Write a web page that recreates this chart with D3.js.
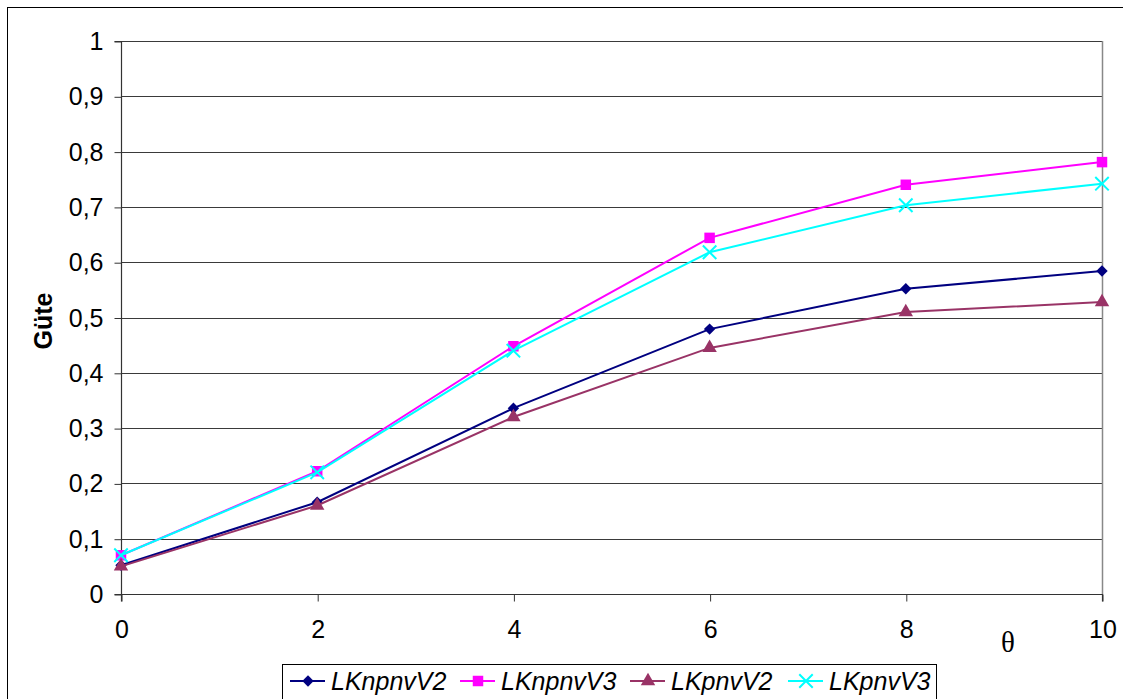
<!DOCTYPE html>
<html>
<head>
<meta charset="utf-8">
<script src="https://cdn.jsdelivr.net/npm/d3@7"></script>
<style>
  body { margin: 0; background: #fff; }
  svg { display: block; }
</style>
</head>
<body>
<svg id="chart"></svg>
<script>
  var thetas = [0, 2, 4, 6, 8, 10];
  var yTicks = [0, 0.1, 0.2, 0.3, 0.4, 0.5, 0.6, 0.7, 0.8, 0.9, 1];
  var seriesNames = ['LKnpnvV2', 'LKnpnvV3', 'LKpnvV2', 'LKpnvV3'];
  var lknpnvV2 = [0.052, 0.166, 0.336, 0.479, 0.552, 0.584];
  var lknpnvV3 = [0.070, 0.222, 0.448, 0.644, 0.740, 0.781];
  var lkpnvV2 = [0.050, 0.160, 0.320, 0.445, 0.510, 0.528];
  var lkpnvV3 = [0.070, 0.220, 0.440, 0.618, 0.703, 0.742];

  var width = 1123, height = 699;
  var colors = ['#000080', '#ff00ff', '#993366', '#00ffff'];
  var values = [lknpnvV2, lknpnvV3, lkpnvV2, lkpnvV3];

  // square turned 45 degrees, like the Excel diamond
  var wideDiamond = {
    draw: function (ctx, size) {
      var r = Math.sqrt(size) / 2 * 1.2;
      ctx.moveTo(0, -r); ctx.lineTo(r, 0); ctx.lineTo(0, r); ctx.lineTo(-r, 0); ctx.closePath();
    }
  };
  var shapes = [wideDiamond, d3.symbolSquare, d3.symbolTriangle, d3.symbolX];
  var sizes = [90, 110, 90, 120];

  var svg = d3.select('#chart').attr('width', width).attr('height', height);

  // outer frame (runs off the right and bottom edge)
  svg.append('rect')
    .attr('x', 7.5).attr('y', 7.5)
    .attr('width', 1130).attr('height', 700)
    .attr('fill', '#fff').attr('stroke', '#000').attr('stroke-width', 1);

  var x = d3.scaleLinear().domain([0, 10]).range([121, 1102]);
  var y = d3.scaleLinear().domain([0, 1]).range([594, 41]);

  // gridlines
  svg.append('g').selectAll('line')
    .data(yTicks.slice(1))
    .enter().append('line')
    .attr('x1', x(0)).attr('x2', x(10))
    .attr('y1', function (d) { return Math.round(y(d)) + 0.5; })
    .attr('y2', function (d) { return Math.round(y(d)) + 0.5; })
    .attr('stroke', '#3a3a3a').attr('stroke-width', 1);

  // right plot border
  svg.append('line')
    .attr('x1', x(10) + 0.5).attr('x2', x(10) + 0.5)
    .attr('y1', y(1)).attr('y2', y(0))
    .attr('stroke', '#888').attr('stroke-width', 1.5);

  var font = 'Liberation Sans, Arial, sans-serif';

  var yAxis = svg.append('g')
    .attr('transform', 'translate(' + (x(0) + 0.5) + ',0.5)')
    .call(d3.axisLeft(y).tickValues(yTicks).tickSize(7).tickPadding(11)
      .tickFormat(function (d) { return d3.format('.1~f')(d).replace('.', ','); }));
  var xAxis = svg.append('g')
    .attr('transform', 'translate(0.5,' + (y(0) + 0.5) + ')')
    .call(d3.axisBottom(x).tickValues(thetas).tickSize(7).tickPadding(19));

  [xAxis, yAxis].forEach(function (a) {
    a.select('.domain').attr('stroke', '#333').attr('stroke-width', 1.2);
    a.selectAll('.tick line').attr('stroke', '#333');
    a.selectAll('.tick text').attr('font-family', font).attr('font-size', 25).attr('fill', '#000');
  });
  xAxis.select('.domain').attr('d', 'M' + x(0) + ',7V0H' + x(10) + 'V7');
  yAxis.select('.domain').attr('d', 'M-7,' + y(1) + 'H0V' + y(0) + 'H-7');

  // axis titles
  svg.append('text')
    .attr('x', 1008).attr('y', 652)
    .attr('text-anchor', 'middle')
    .attr('font-family', 'Liberation Serif, Times New Roman, serif')
    .attr('font-size', 29)
    .text('θ');
  svg.append('text')
    .attr('transform', 'translate(52,321) rotate(-90)')
    .attr('text-anchor', 'middle')
    .attr('font-family', font).attr('font-size', 25).attr('font-weight', 'bold')
    .text('Güte');

  // series
  var line = d3.line()
    .x(function (d, i) { return x(thetas[i]); })
    .y(function (d) { return y(d); });

  function marker(sel, s) {
    sel.attr('d', d3.symbol().type(shapes[s]).size(sizes[s]))
      .attr('fill', s === 3 ? 'none' : colors[s])
      .attr('stroke', colors[s])
      .attr('stroke-width', s === 3 ? 2 : 0);
  }

  values.forEach(function (vals, s) {
    var g = svg.append('g');
    g.append('path')
      .attr('d', line(vals))
      .attr('fill', 'none')
      .attr('stroke', colors[s]).attr('stroke-width', 2);
    g.selectAll('path.m')
      .data(vals)
      .enter().append('path')
      .attr('class', 'm')
      .attr('transform', function (d, i) { return 'translate(' + x(thetas[i]) + ',' + y(d) + ')'; })
      .call(marker, s);
  });

  // legend
  var legend = svg.append('g');
  legend.append('rect')
    .attr('x', 282.5).attr('y', 664.5)
    .attr('width', 654).attr('height', 50)
    .attr('fill', '#fff').attr('stroke', '#000').attr('stroke-width', 1);
  var legX = [308, 478, 648, 806];
  seriesNames.forEach(function (name, s) {
    var lg = legend.append('g').attr('transform', 'translate(' + legX[s] + ',681)');
    lg.append('line')
      .attr('x1', -18).attr('x2', 17).attr('y1', 0).attr('y2', 0)
      .attr('stroke', colors[s]).attr('stroke-width', 2);
    lg.append('path')
      .call(marker, s);
    lg.append('text')
      .attr('x', 23).attr('y', 9)
      .attr('font-family', font).attr('font-size', 25).attr('font-style', 'italic')
      .text(name);
  });
</script>
</body>
</html>
